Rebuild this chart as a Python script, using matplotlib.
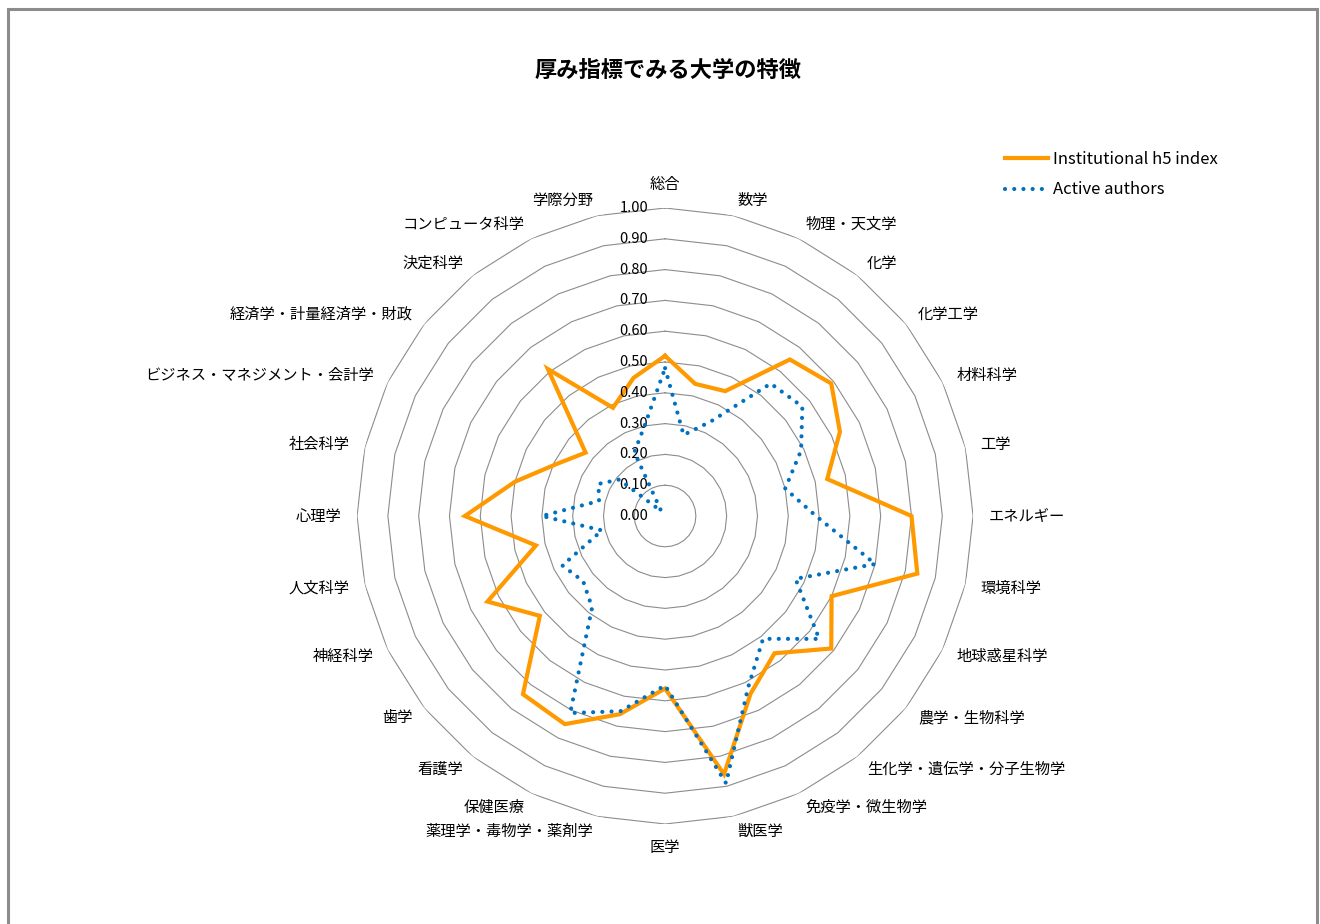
import numpy as np
import matplotlib
matplotlib.use('Agg')
import matplotlib.pyplot as plt
from matplotlib.patches import Rectangle

plt.rcParams['font.family'] = ['Noto Sans CJK JP', 'DejaVu Sans']

# chart data
title = '厚み指標でみる大学の特徴'
categories = ['総合', '数学', '物理・天文学', '化学', '化学工学', '材料科学', '工学',
              'エネルギー', '環境科学', '地球惑星科学', '農学・生物科学',
              '生化学・遺伝学・分子生物学', '免疫学・微生物学', '獣医学', '医学',
              '薬理学・毒物学・薬剤学', '保健医療', '看護学', '歯学', '神経科学',
              '人文科学', '心理学', '社会科学', 'ビジネス・マネジメント・会計学',
              '経済学・計量経済学・財政', '決定科学', 'コンピュータ科学', '学際分野']
h5_index = [0.52, 0.44, 0.45, 0.65, 0.69, 0.63, 0.54, 0.80, 0.84, 0.60,
            0.69, 0.57, 0.64, 0.86, 0.56, 0.66, 0.75, 0.74, 0.52, 0.64,
            0.43, 0.65, 0.50, 0.39, 0.33, 0.61, 0.39, 0.46]
active_authors = [0.48, 0.27, 0.34, 0.55, 0.57, 0.49, 0.40, 0.49, 0.70, 0.47,
                  0.64, 0.51, 0.62, 0.89, 0.55, 0.65, 0.71, 0.38, 0.34, 0.37,
                  0.21, 0.40, 0.22, 0.24, 0.19, 0.02, 0.23, 0.30]
series_names = ['Institutional h5 index', 'Active authors']
ring_levels = [0.0, 0.1, 0.2, 0.3, 0.4, 0.5, 0.6, 0.7, 0.8, 0.9, 1.0]
ring_labels = ['0.00', '0.10', '0.20', '0.30', '0.40', '0.50',
               '0.60', '0.70', '0.80', '0.90', '1.00']

n = len(categories)
angles = np.arange(n) * 2 * np.pi / n
closed = np.append(angles, angles[0])

fig = plt.figure(figsize=(13.2, 9.24), dpi=100)

# outer chart border (bottom edge falls outside the image)
fig.patches.append(Rectangle((7.5 / 1320, -0.02), (1317 - 7.5) / 1320, 1 - 8.5 / 924 + 0.02,
                             transform=fig.transFigure, fill=False,
                             edgecolor='#8c8c8c', linewidth=2.2))

ax = fig.add_axes([0.2705, 0.1082, 0.4667, 0.6667], projection='polar')
ax.set_theta_zero_location('N')
ax.set_theta_direction(-1)
ax.set_ylim(0, 1)
ax.grid(False)
ax.spines['polar'].set_visible(False)
ax.set_xticks([])
ax.set_yticks([])
ax.patch.set_visible(False)

# polygon gridlines
for lv in ring_levels[1:]:
    ax.plot(closed, np.full(n + 1, lv), color='#8c8c8c', lw=0.8, zorder=1)

h5_closed = np.append(h5_index, h5_index[0])
aa_closed = np.append(active_authors, active_authors[0])
ax.plot(closed, h5_closed, color='#FF9900', lw=3, solid_joinstyle='miter',
        label=series_names[0], zorder=3)
ax.plot(closed, aa_closed, color='#0070C0', lw=3, linestyle=(0, (0.01, 2.2)),
        dash_capstyle='round', label=series_names[1], zorder=4)

# value labels along the top axis
for lv, lab in zip(ring_levels, ring_labels):
    ax.annotate(lab, xy=(0, lv), xytext=(-17, 0), textcoords='offset pixels',
                ha='right', va='center', fontsize=10.5)

# category labels
for ang, name in zip(angles, categories):
    s = np.sin(ang)
    c = np.cos(ang)
    ha = 'center' if abs(s) < 0.05 else ('left' if s > 0 else 'right')
    va = 'center'
    if c > 0.99:
        va = 'bottom'
    elif c < -0.99:
        va = 'top'
    ax.text(ang, 1.05, name, ha=ha, va=va, fontsize=11)

fig.text(668 / 1320, 1 - 70 / 924, title, ha='center', va='center',
         fontsize=16, fontweight='bold')

fig.legend(loc='upper left', bbox_to_anchor=(1005 / 1320, 1 - 151 / 924),
           frameon=False, fontsize=12, borderpad=0, borderaxespad=0,
           handlelength=2.6, handletextpad=0.3, labelspacing=0.8)

fig.savefig('out.png', dpi=100)
